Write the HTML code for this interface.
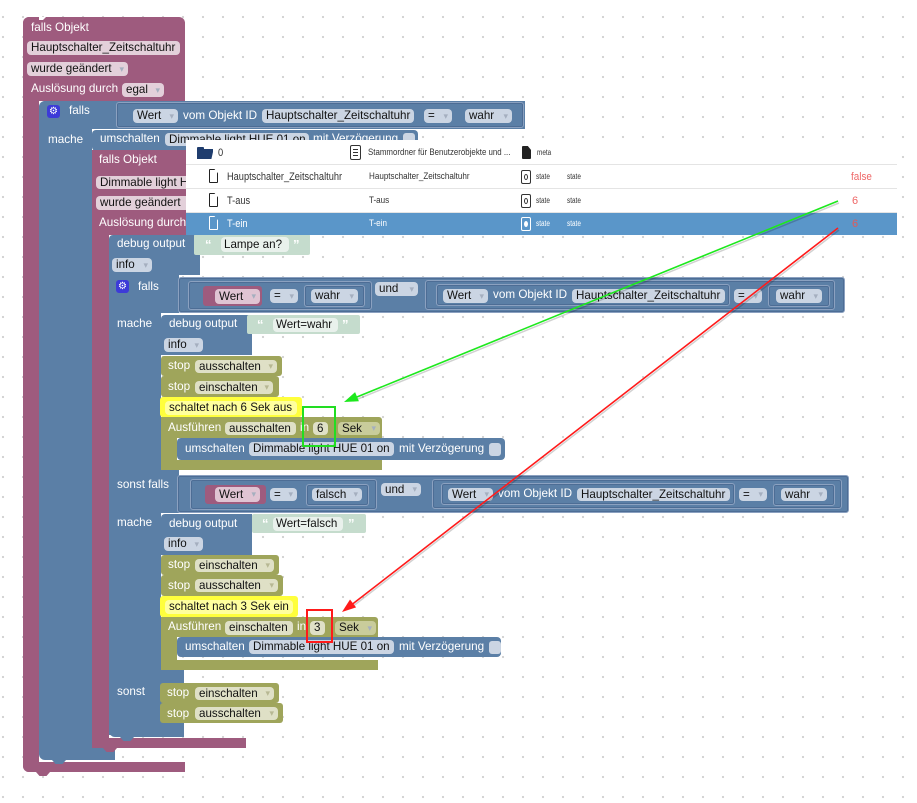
<!DOCTYPE html>
<html><head><meta charset="utf-8">
<style>
*{margin:0;padding:0;box-sizing:border-box}
html,body{width:917px;height:803px;overflow:hidden;background:#fff}
body{position:relative;font-family:"Liberation Sans",Arial,sans-serif;
background-image:radial-gradient(circle,#cfcfcf 0.9px,transparent 1.3px);
background-size:20px 20px;background-position:-7px 7px}
div,span{position:absolute}
.P{background:#9e5b7e}
.B{background:#5b7fa6}
.O{background:#9fa55b}
.t{color:#fff;font-size:11.7px;line-height:14px;white-space:nowrap}
.f{border-radius:4px;color:#111;font-size:11.6px;white-space:nowrap;padding-left:4px;overflow:hidden}
.fP{background:#e3d0da}
.fB{background:#cbd5e3}
.fO{background:#dfe0c6}
.fW{background:#e0c4d3}
.dd::after{content:"▾";position:absolute;right:4px;top:0;font-size:9px;color:#a5afbf}
.fO.dd::after{color:#b7b893}
.ol{border:1px solid #8ba1c0;box-shadow:inset 0 0 0 1px #4d6d95;border-radius:3px}
.gear{width:13px;height:13px;background:#3d3bd8;border-radius:3px;color:#fff;font-size:10px;line-height:13px;text-align:center}
.str{background:#c5dccd;border-radius:2px}
.sf{background:#e9f1ec;border-radius:4px;color:#111;font-size:11.6px;padding-left:3px;white-space:nowrap}
.q{color:#fff;font-size:13px;font-weight:bold;line-height:14px}
.cb{background:#cbd5e3;border-radius:3px;width:12px;height:13px}
.tab{clip-path:polygon(0 0,100% 0,75% 100%,25% 100%)}
.tb{color:#333;white-space:nowrap;transform-origin:0 50%}
</style></head><body>

<!-- Outer purple P1 -->
<div class="P" style="left:23px;top:17px;width:162px;height:84px;border-radius:6px 6px 0 0"></div>
<div style="left:34px;top:17px;width:12px;height:3px;background:#fff;clip-path:polygon(0 0,100% 0,75% 100%,25% 100%)"></div>
<div class="P" style="left:23px;top:17px;width:16px;height:755px;border-radius:6px 0 0 6px"></div>
<div class="P" style="left:23px;top:762px;width:162px;height:10px;border-radius:0 0 0 6px"></div>
<div class="P tab" style="left:36px;top:772px;width:14px;height:4px"></div>
<div class="t" style="left:31px;top:21px">falls Objekt</div>
<div class="f fP" style="left:27px;top:41px;width:153px;height:14px;line-height:14px">Hauptschalter_Zeitschaltuhr</div>
<div class="f fP dd" style="left:27px;top:62px;width:101px;height:14px;line-height:14px">wurde geändert</div>
<div class="t" style="left:31px;top:82px">Auslösung durch</div>
<div class="f fP dd" style="left:122px;top:83px;width:42px;height:14px;line-height:14px">egal</div>

<!-- B1 blue falls -->
<div class="B" style="left:39px;top:101px;width:486px;height:28px;border-radius:6px 0 0 0"></div>
<div class="B" style="left:39px;top:101px;width:53px;height:649px;border-radius:6px 0 0 0"></div>
<div class="B" style="left:39px;top:748px;width:76px;height:12px;border-radius:0 0 0 6px"></div>
<div class="B tab" style="left:52px;top:760px;width:14px;height:4px"></div>
<div class="gear" style="left:47px;top:105px">⚙</div>
<div class="t" style="left:69px;top:104px">falls</div>
<div class="B ol" style="left:116px;top:102px;width:408px;height:26px"></div>
<div class="f fB dd" style="left:133px;top:109px;width:45px;height:14px;line-height:14px">Wert</div>
<div class="t" style="left:183px;top:109px">vom Objekt ID</div>
<div class="f fB" style="left:262px;top:109px;width:152px;height:14px;line-height:14px">Hauptschalter_Zeitschaltuhr</div>
<div class="f fB dd" style="left:424px;top:109px;width:28px;height:14px;line-height:14px">=</div>
<div class="f fB dd" style="left:465px;top:109px;width:47px;height:14px;line-height:14px">wahr</div>
<div class="t" style="left:48px;top:133px">mache</div>

<!-- B2 umschalten -->
<div class="B" style="left:92px;top:130px;width:326px;height:21px;border-radius:4px"></div>
<div class="t" style="left:100px;top:132px">umschalten</div>
<div class="f fB" style="left:165px;top:133px;width:144px;height:13px;line-height:13px">Dimmable light HUE 01 on</div>
<div class="t" style="left:313px;top:132px">mit Verzögerung</div>
<div class="cb" style="left:403px;top:133px"></div>

<!-- P2 inner purple -->
<div class="P" style="left:92px;top:150px;width:170px;height:85px"></div>
<div class="P" style="left:92px;top:150px;width:17px;height:598px"></div>
<div class="P" style="left:92px;top:738px;width:154px;height:10px;border-radius:0 0 0 6px"></div>
<div class="P tab" style="left:103px;top:748px;width:14px;height:4px"></div>
<div class="t" style="left:99px;top:153px">falls Objekt</div>
<div class="f fP" style="left:96px;top:176px;width:160px;height:13px;line-height:13px">Dimmable light HUE 01 on</div>
<div class="f fP dd" style="left:96px;top:196px;width:100px;height:14px;line-height:14px">wurde geändert</div>
<div class="t" style="left:99px;top:216px">Auslösung durch</div>

<!-- B3 debug output -->
<div class="B" style="left:109px;top:235px;width:91px;height:40px;border-radius:4px 0 0 0"></div>
<div class="t" style="left:117px;top:237px">debug output</div>
<div class="str" style="left:194px;top:234px;width:116px;height:21px"></div>
<div class="q" style="left:205px;top:238px">“</div>
<div class="sf" style="left:221px;top:237px;width:68px;height:15px;line-height:15px">Lampe an?</div>
<div class="q" style="left:293px;top:238px">”</div>
<div class="f fB dd" style="left:112px;top:258px;width:40px;height:14px;line-height:14px">info</div>

<!-- B4 inner falls -->
<div class="B" style="left:109px;top:275px;width:70px;height:38px"></div>
<div class="B" style="left:109px;top:275px;width:52px;height:460px"></div>
<div class="B" style="left:109px;top:670px;width:75px;height:67px;border-radius:0 0 0 6px"></div>
<div class="B tab" style="left:120px;top:737px;width:14px;height:4px"></div>
<div class="gear" style="left:116px;top:280px">⚙</div>
<div class="t" style="left:138px;top:280px">falls</div>
<div class="B ol" style="left:178px;top:277px;width:667px;height:36px"></div>
<div class="B ol" style="left:188px;top:281px;width:184px;height:29px"></div>
<div class="P" style="left:203px;top:286px;width:59px;height:20px;border-radius:3px"></div>
<div class="f fW dd" style="left:215px;top:289px;width:45px;height:15px;line-height:15px">Wert</div>
<div class="f fB dd" style="left:270px;top:289px;width:28px;height:14px;line-height:14px">=</div>
<div class="B ol" style="left:304px;top:285px;width:61px;height:22px"></div>
<div class="f fB dd" style="left:311px;top:289px;width:47px;height:14px;line-height:14px">wahr</div>
<div class="f fB dd" style="left:375px;top:282px;width:43px;height:14px;line-height:14px">und</div>
<div class="B ol" style="left:425px;top:280px;width:410px;height:30px"></div>
<div class="B ol" style="left:436px;top:284px;width:294px;height:22px"></div>
<div class="f fB dd" style="left:443px;top:289px;width:45px;height:14px;line-height:14px">Wert</div>
<div class="t" style="left:493px;top:288px">vom Objekt ID</div>
<div class="f fB" style="left:572px;top:289px;width:153px;height:14px;line-height:14px">Hauptschalter_Zeitschaltuhr</div>
<div class="f fB dd" style="left:734px;top:289px;width:28px;height:14px;line-height:14px">=</div>
<div class="B ol" style="left:768px;top:285px;width:62px;height:22px"></div>
<div class="f fB dd" style="left:776px;top:289px;width:46px;height:14px;line-height:14px">wahr</div>
<div class="t" style="left:117px;top:317px">mache</div>

<!-- B5 debug -->
<div class="B" style="left:161px;top:315px;width:91px;height:40px;border-radius:4px 0 0 0"></div>
<div class="t" style="left:169px;top:317px">debug output</div>
<div class="str" style="left:247px;top:315px;width:113px;height:19px"></div>
<div class="q" style="left:257px;top:318px">“</div>
<div class="sf" style="left:273px;top:318px;width:65px;height:14px;line-height:14px">Wert=wahr</div>
<div class="q" style="left:342px;top:318px">”</div>
<div class="f fB dd" style="left:164px;top:338px;width:39px;height:14px;line-height:14px">info</div>

<div class="O" style="left:161px;top:356px;width:121px;height:20px;border-radius:3px"></div>
<div class="t" style="left:168px;top:359px">stop</div>
<div class="f fO dd" style="left:195px;top:360px;width:82px;height:13px;line-height:13px">ausschalten</div>
<div class="O" style="left:161px;top:376px;width:118px;height:21px;border-radius:3px"></div>
<div class="t" style="left:168px;top:380px">stop</div>
<div class="f fO dd" style="left:195px;top:381px;width:78px;height:13px;line-height:13px">einschalten</div>
<div style="left:160px;top:397px;width:142px;height:20px;background:#ffff3c;border-radius:3px"></div>
<div class="f" style="left:165px;top:401px;width:132px;height:14px;line-height:14px;background:#ffff9e">schaltet nach 6 Sek aus</div>

<div class="O" style="left:161px;top:417px;width:221px;height:21px;border-radius:3px 3px 0 0"></div>
<div class="O" style="left:161px;top:417px;width:16px;height:53px"></div>
<div class="O" style="left:161px;top:460px;width:221px;height:10px;border-radius:0 0 0 4px"></div>
<div class="t" style="left:168px;top:421px">Ausführen</div>
<div class="f fO" style="left:225px;top:422px;width:71px;height:13px;line-height:13px">ausschalten</div>
<div class="t" style="left:300px;top:421px">in</div>
<div class="f fO" style="left:313px;top:422px;width:15px;height:13px;line-height:13px">6</div>
<div class="f dd" style="left:338px;top:422px;width:42px;height:13px;line-height:13px;background:#c9cc9b">Sek</div>
<div class="B" style="left:177px;top:438px;width:328px;height:22px;border-radius:4px"></div>
<div class="t" style="left:185px;top:442px">umschalten</div>
<div class="f fB" style="left:249px;top:442px;width:145px;height:14px;line-height:14px">Dimmable light HUE 01 on</div>
<div class="t" style="left:399px;top:442px">mit Verzögerung</div>
<div class="cb" style="left:489px;top:443px"></div>

<!-- sonst falls -->
<div class="B" style="left:109px;top:470px;width:70px;height:43px"></div>
<div class="t" style="left:117px;top:478px">sonst falls</div>
<div class="B ol" style="left:177px;top:475px;width:672px;height:38px"></div>
<div class="B ol" style="left:190px;top:479px;width:187px;height:31px"></div>
<div class="P" style="left:205px;top:485px;width:61px;height:19px;border-radius:3px"></div>
<div class="f fW dd" style="left:215px;top:487px;width:45px;height:15px;line-height:15px">Wert</div>
<div class="f fB dd" style="left:270px;top:488px;width:27px;height:13px;line-height:13px">=</div>
<div class="B ol" style="left:306px;top:484px;width:63px;height:22px"></div>
<div class="f fB dd" style="left:312px;top:488px;width:50px;height:13px;line-height:13px">falsch</div>
<div class="f fB dd" style="left:381px;top:483px;width:40px;height:13px;line-height:13px">und</div>
<div class="B ol" style="left:432px;top:479px;width:410px;height:30px"></div>
<div class="B ol" style="left:441px;top:483px;width:294px;height:22px"></div>
<div class="f fB dd" style="left:448px;top:488px;width:45px;height:13px;line-height:13px">Wert</div>
<div class="t" style="left:498px;top:487px">vom Objekt ID</div>
<div class="f fB" style="left:577px;top:488px;width:153px;height:13px;line-height:13px">Hauptschalter_Zeitschaltuhr</div>
<div class="f fB dd" style="left:739px;top:488px;width:28px;height:13px;line-height:13px">=</div>
<div class="B ol" style="left:773px;top:484px;width:62px;height:22px"></div>
<div class="f fB dd" style="left:781px;top:488px;width:46px;height:13px;line-height:13px">wahr</div>
<div class="t" style="left:117px;top:516px">mache</div>

<!-- B6 debug -->
<div class="B" style="left:161px;top:514px;width:91px;height:41px;border-radius:4px 0 0 0"></div>
<div class="t" style="left:169px;top:517px">debug output</div>
<div class="str" style="left:252px;top:514px;width:114px;height:19px"></div>
<div class="q" style="left:262px;top:517px">“</div>
<div class="sf" style="left:273px;top:517px;width:70px;height:14px;line-height:14px">Wert=falsch</div>
<div class="q" style="left:348px;top:517px">”</div>
<div class="f fB dd" style="left:164px;top:537px;width:39px;height:14px;line-height:14px">info</div>

<div class="O" style="left:161px;top:555px;width:118px;height:20px;border-radius:3px"></div>
<div class="t" style="left:168px;top:558px">stop</div>
<div class="f fO dd" style="left:195px;top:559px;width:79px;height:13px;line-height:13px">einschalten</div>
<div class="O" style="left:161px;top:575px;width:122px;height:21px;border-radius:3px"></div>
<div class="t" style="left:168px;top:579px">stop</div>
<div class="f fO dd" style="left:195px;top:579px;width:83px;height:13px;line-height:13px">ausschalten</div>
<div style="left:160px;top:596px;width:138px;height:21px;background:#ffff3c;border-radius:3px"></div>
<div class="f" style="left:165px;top:600px;width:128px;height:14px;line-height:14px;background:#ffff9e">schaltet nach 3 Sek ein</div>

<div class="O" style="left:161px;top:617px;width:217px;height:20px;border-radius:3px 3px 0 0"></div>
<div class="O" style="left:161px;top:617px;width:16px;height:53px"></div>
<div class="O" style="left:161px;top:660px;width:217px;height:10px;border-radius:0 0 0 4px"></div>
<div class="t" style="left:168px;top:620px">Ausführen</div>
<div class="f fO" style="left:225px;top:621px;width:68px;height:14px;line-height:14px">einschalten</div>
<div class="t" style="left:297px;top:620px">in</div>
<div class="f fO" style="left:310px;top:621px;width:15px;height:14px;line-height:14px">3</div>
<div class="f dd" style="left:335px;top:621px;width:41px;height:14px;line-height:14px;background:#c9cc9b">Sek</div>
<div class="B" style="left:177px;top:637px;width:324px;height:20px;border-radius:4px"></div>
<div class="t" style="left:185px;top:640px">umschalten</div>
<div class="f fB" style="left:249px;top:640px;width:145px;height:14px;line-height:14px">Dimmable light HUE 01 on</div>
<div class="t" style="left:399px;top:640px">mit Verzögerung</div>
<div class="cb" style="left:489px;top:641px"></div>

<!-- sonst -->
<div class="t" style="left:117px;top:685px">sonst</div>
<div class="O" style="left:160px;top:683px;width:119px;height:20px;border-radius:3px"></div>
<div class="t" style="left:167px;top:686px">stop</div>
<div class="f fO dd" style="left:195px;top:687px;width:79px;height:13px;line-height:13px">einschalten</div>
<div class="O" style="left:160px;top:703px;width:123px;height:20px;border-radius:3px"></div>
<div class="t" style="left:167px;top:707px">stop</div>
<div class="f fO dd" style="left:195px;top:707px;width:83px;height:13px;line-height:13px">ausschalten</div>

<!-- Table panel -->
<div style="left:186px;top:140px;width:711px;height:95px;background:#fff"></div>
<div style="left:186px;top:164px;width:711px;height:1px;background:#e4e4e4"></div>
<div style="left:186px;top:188px;width:711px;height:1px;background:#e4e4e4"></div>
<div style="left:186px;top:212px;width:711px;height:1px;background:#e4e4e4"></div>
<div style="left:186px;top:213px;width:711px;height:22px;background:#5a96c9"></div>
<!-- header row -->
<div style="left:197px;top:147px;width:7px;height:3px;background:#1f3d6e;border-radius:1px 1px 0 0"></div>
<div style="left:197px;top:149px;width:16px;height:10px;background:#1f3d6e;clip-path:polygon(0 0,100% 0,100% 30%,90% 100%,0 100%)"></div>
<div class="tb" style="left:218px;top:146px;font-size:11px;line-height:14px;transform:scaleX(.85)">0</div>
<div style="left:350px;top:145px;width:11px;height:15px;border:1.5px solid #333;border-radius:2px"></div>
<div style="left:353px;top:149px;width:5px;height:1px;background:#333"></div>
<div style="left:353px;top:152px;width:5px;height:1px;background:#333"></div>
<div style="left:353px;top:155px;width:5px;height:1px;background:#333"></div>
<div class="tb" style="left:368px;top:147px;font-size:9.5px;line-height:12px;transform:scaleX(.83)">Stammordner für Benutzerobjekte und ...</div>
<div style="left:522px;top:146px;width:9px;height:13px;background:#222;border-radius:1px;clip-path:polygon(0 0,65% 0,100% 30%,100% 100%,0 100%)"></div>
<div class="tb" style="left:537px;top:148px;font-size:8px;line-height:10px;transform:scaleX(.8)">meta</div>
<!-- row 1 -->
<div style="left:209px;top:169px;width:9px;height:14px;border:1.5px solid #222;border-radius:1px;clip-path:polygon(0 0,60% 0,100% 30%,100% 100%,0 100%)"></div>
<div class="tb" style="left:227px;top:170px;font-size:11px;line-height:14px;transform:scaleX(.84)">Hauptschalter_Zeitschaltuhr</div>
<div class="tb" style="left:369px;top:171px;font-size:9.5px;line-height:12px;transform:scaleX(.85)">Hauptschalter_Zeitschaltuhr</div>
<div style="left:521px;top:170px;width:10px;height:14px;border:1.5px solid #333;border-radius:2px"></div>
<div style="left:524px;top:174px;width:4px;height:6px;border:1px solid #333;border-radius:50%"></div>
<div class="tb" style="left:536px;top:172px;font-size:8px;line-height:10px;transform:scaleX(.8)">state</div>
<div class="tb" style="left:567px;top:172px;font-size:8px;line-height:10px;transform:scaleX(.8)">state</div>
<div class="tb" style="left:851px;top:170px;font-size:11px;line-height:14px;color:#ee6666;transform:scaleX(.9)">false</div>
<!-- row 2 -->
<div style="left:209px;top:193px;width:9px;height:14px;border:1.5px solid #222;border-radius:1px;clip-path:polygon(0 0,60% 0,100% 30%,100% 100%,0 100%)"></div>
<div class="tb" style="left:227px;top:194px;font-size:11px;line-height:14px;transform:scaleX(.84)">T-aus</div>
<div class="tb" style="left:369px;top:195px;font-size:9.5px;line-height:12px;transform:scaleX(.85)">T-aus</div>
<div style="left:521px;top:194px;width:10px;height:14px;border:1.5px solid #333;border-radius:2px"></div>
<div style="left:524px;top:198px;width:4px;height:6px;border:1px solid #333;border-radius:50%"></div>
<div class="tb" style="left:536px;top:196px;font-size:8px;line-height:10px;transform:scaleX(.8)">state</div>
<div class="tb" style="left:567px;top:196px;font-size:8px;line-height:10px;transform:scaleX(.8)">state</div>
<div class="tb" style="left:852px;top:194px;font-size:11px;line-height:14px;color:#ee6666">6</div>
<!-- row 3 -->
<div style="left:209px;top:216px;width:9px;height:14px;border:1.5px solid #fff;border-radius:1px;clip-path:polygon(0 0,60% 0,100% 30%,100% 100%,0 100%)"></div>
<div class="tb" style="left:227px;top:217px;font-size:11px;line-height:14px;color:#fff;transform:scaleX(.84)">T-ein</div>
<div class="tb" style="left:369px;top:218px;font-size:9.5px;line-height:12px;color:#fff;transform:scaleX(.85)">T-ein</div>
<div style="left:521px;top:217px;width:10px;height:14px;border:1.5px solid #fff;border-radius:2px"></div>
<div style="left:524px;top:221px;width:4px;height:6px;background:#fff;border-radius:50%"></div>
<div class="tb" style="left:536px;top:219px;font-size:8px;line-height:10px;color:#fff;transform:scaleX(.8)">state</div>
<div class="tb" style="left:567px;top:219px;font-size:8px;line-height:10px;color:#fff;transform:scaleX(.8)">state</div>
<div class="tb" style="left:852px;top:217px;font-size:11px;line-height:14px;color:#e05a5a">6</div>

<!-- Arrows overlay -->
<svg width="917" height="803" style="position:absolute;left:0;top:0" xmlns="http://www.w3.org/2000/svg">
<line x1="839" y1="203" x2="353" y2="401" stroke="#000" stroke-opacity="0.18" stroke-width="1.5"/>
<line x1="839" y1="230" x2="352" y2="607" stroke="#000" stroke-opacity="0.18" stroke-width="1.5"/>
<line x1="838" y1="201" x2="352" y2="399" stroke="#1de81d" stroke-width="1.6"/>
<polygon points="344,402 358.9,401.3 355.1,392.1" fill="#1de81d"/>
<line x1="838" y1="228" x2="350" y2="606" stroke="#ff1a1a" stroke-width="1.6"/>
<polygon points="342,612 356.1,607.4 350,599.5" fill="#ff1a1a"/>
<rect x="303" y="407" width="32" height="39" fill="none" stroke="#22dd22" stroke-width="2"/>
<rect x="307" y="610" width="25" height="32" fill="none" stroke="#ff1a1a" stroke-width="2"/>
</svg>
</body></html>
